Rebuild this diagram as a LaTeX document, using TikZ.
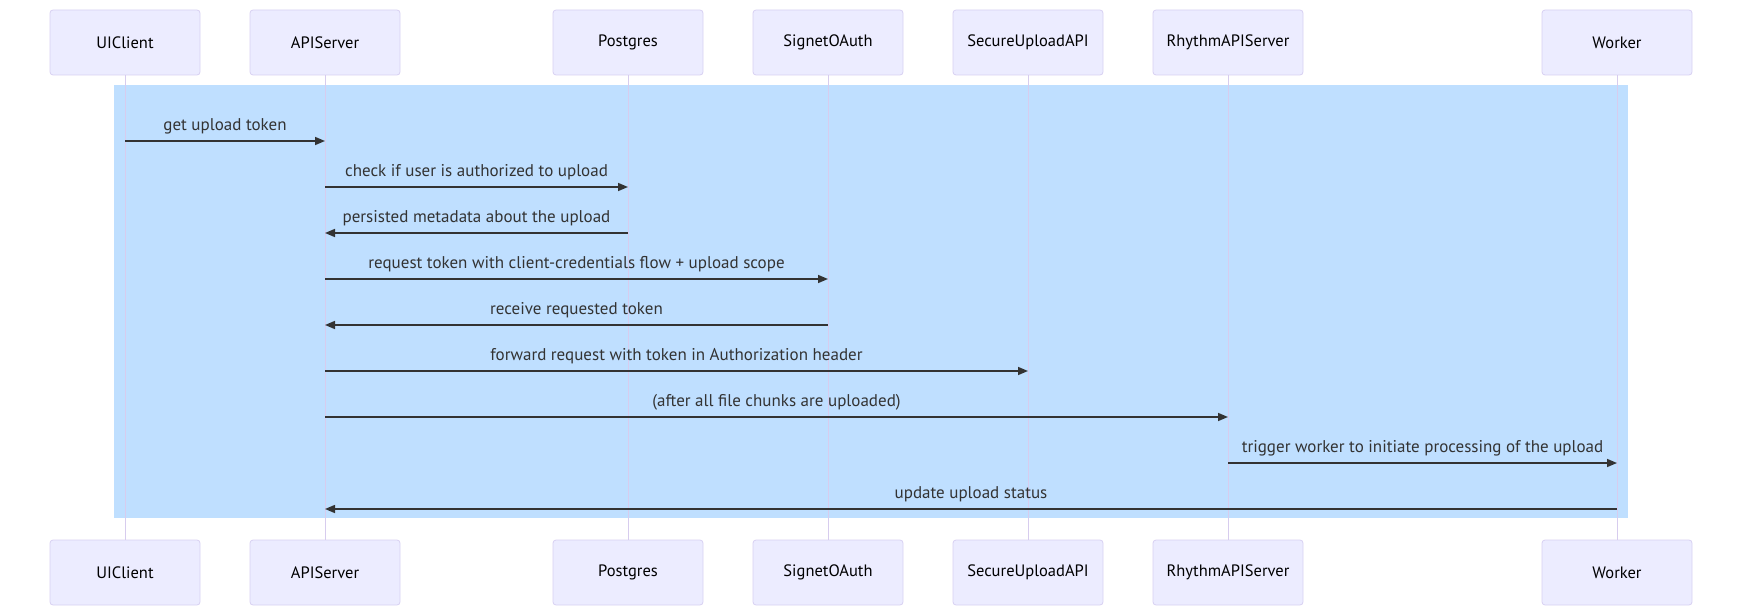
\documentclass[tikz,border=0pt]{standalone}
\usepackage{fontspec}
\setmainfont{PT Sans}
\usetikzlibrary{positioning,arrows.meta}
\definecolor{actorfill}{HTML}{ECECFF}
\definecolor{actorline}{HTML}{D8D0F2}
\definecolor{lifecol}{HTML}{D7CCEE}
\definecolor{boxfill}{HTML}{BFDFFF}
\definecolor{msgcol}{HTML}{333333}

\begin{document}
\begin{tikzpicture}[
    x=1pt, y=-1pt,
    >={Triangle[length=10pt,width=8pt]},
    actor/.style={
        rectangle, rounded corners=3pt, draw=actorline, fill=actorfill,
        minimum width=150pt, minimum height=65pt, line width=0.8pt,
        font=\fontsize{16.5}{19}\selectfont, text=black
    },
    lifeline/.style={draw=lifecol, line width=1pt},
    msg/.style={->, draw=msgcol, line width=1.5pt},
    msglabel/.style={above, font=\fontsize{17}{20}\selectfont,
        text=msgcol, inner sep=0pt, yshift=6pt},
]
\useasboundingbox (0,0) rectangle (1742,615);

% Highlighted region
\fill[boxfill] (114,85) rectangle (1628,518);

% Participants (top)
\node[actor] (uic) at (125,42.5) {UIClient};
\node[actor] (api) at (325,42.5) {APIServer};
\node[actor] (pg) at (628,42.5) {Postgres};
\node[actor] (oauth) at (828,42.5) {SignetOAuth};
\node[actor] (sup) at (1028,42.5) {SecureUploadAPI};
\node[actor] (rhy) at (1228,42.5) {RhythmAPIServer};
\node[actor] (wrk) at (1617,42.5) {Worker};

% Participants (bottom)
\node[actor] (uicb) at (125,572.5) {UIClient};
\node[actor] (apib) at (325,572.5) {APIServer};
\node[actor] (pgb) at (628,572.5) {Postgres};
\node[actor] (oauthb) at (828,572.5) {SignetOAuth};
\node[actor] (supb) at (1028,572.5) {SecureUploadAPI};
\node[actor] (rhyb) at (1228,572.5) {RhythmAPIServer};
\node[actor] (wrkb) at (1617,572.5) {Worker};

% Lifelines
\draw[lifeline] (uic) -- (uicb);
\draw[lifeline] (api) -- (apib);
\draw[lifeline] (pg) -- (pgb);
\draw[lifeline] (oauth) -- (oauthb);
\draw[lifeline] (sup) -- (supb);
\draw[lifeline] (rhy) -- (rhyb);
\draw[lifeline] (wrk) -- (wrkb);

% Message rows
\coordinate (r1) at (0,141);
\coordinate (r2) at (0,187);
\coordinate (r3) at (0,233);
\coordinate (r4) at (0,279);
\coordinate (r5) at (0,325);
\coordinate (r6) at (0,371);
\coordinate (r7) at (0,417);
\coordinate (r8) at (0,463);
\coordinate (r9) at (0,509);

% Messages
\draw[msg] (uic |- r1) -- node[msglabel] {get upload token} (api |- r1);
\draw[msg] (api |- r2) -- node[msglabel] {check if user is authorized to upload} (pg |- r2);
\draw[msg] (pg |- r3) -- node[msglabel] {persisted metadata about the upload} (api |- r3);
\draw[msg] (api |- r4) -- node[msglabel] {request token with client-credentials flow + upload scope} (oauth |- r4);
\draw[msg] (oauth |- r5) -- node[msglabel] {receive requested token} (api |- r5);
\draw[msg] (api |- r6) -- node[msglabel] {forward request with token in Authorization header} (sup |- r6);
\draw[msg] (api |- r7) -- node[msglabel] {(after all file chunks are uploaded)} (rhy |- r7);
\draw[msg] (rhy |- r8) -- node[msglabel] {trigger worker to initiate processing of the upload} (wrk |- r8);
\draw[msg] (wrk |- r9) -- node[msglabel] {update upload status} (api |- r9);

\end{tikzpicture}
\end{document}
